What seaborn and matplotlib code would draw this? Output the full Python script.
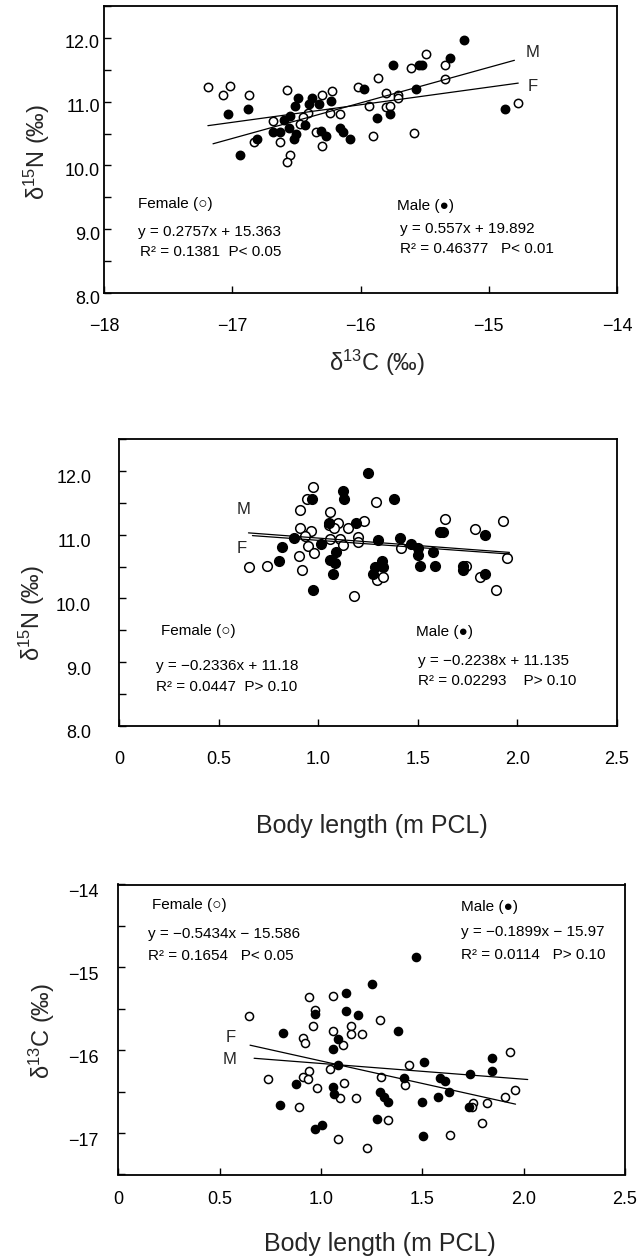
import matplotlib
matplotlib.use("Agg")
import matplotlib.pyplot as plt
import matplotlib.transforms as mtrans
from matplotlib.ticker import MultipleLocator
import numpy as np
import pandas as pd
import seaborn as sns

# ---------------- data ----------------
# Panel 1: d13C vs d15N
p1_female_x = [-17.19, -17.07, -17.02, -16.87, -16.57, -16.30, -16.22, -16.02, -15.86, -15.80,
               -15.71, -15.71, -15.61, -15.49, -15.34, -15.34, -14.77, -15.93, -15.80, -15.77,
               -16.24, -16.16, -16.41, -16.45, -16.68, -16.47, -16.35, -16.63, -16.83, -16.55,
               -16.57, -16.30, -15.90, -15.58]
p1_female_y = [11.23, 11.10, 11.25, 11.10, 11.18, 11.11, 11.16, 11.23, 11.37, 11.13,
               11.10, 11.05, 11.53, 11.75, 11.58, 11.35, 10.98, 10.93, 10.91, 10.93,
               10.83, 10.81, 10.83, 10.76, 10.69, 10.65, 10.53, 10.36, 10.36, 10.17,
               10.06, 10.31, 10.46, 10.51]
p1_male_x = [-15.19, -15.75, -15.54, -15.52, -15.30, -15.97, -15.57, -16.49, -16.51, -16.38,
             -16.40, -16.32, -16.23, -16.88, -17.03, -15.87, -15.77, -16.55, -16.60, -16.43,
             -16.56, -16.68, -16.63, -16.50, -16.52, -16.31, -16.27, -16.16, -16.14, -16.08,
             -16.81, -16.94, -14.87]
p1_male_y = [11.97, 11.58, 11.58, 11.58, 11.68, 11.20, 11.20, 11.06, 10.93, 11.05,
             10.96, 10.96, 11.01, 10.88, 10.80, 10.75, 10.80, 10.77, 10.72, 10.63,
             10.58, 10.53, 10.52, 10.50, 10.41, 10.54, 10.46, 10.58, 10.53, 10.41,
             10.41, 10.16, 10.88]

# Panel 2: body length vs d15N
p2_female_x = [0.652, 0.743, 0.910, 0.910, 0.905, 0.918, 0.943, 0.972, 0.963, 0.935,
               0.947, 0.980, 1.060, 1.053, 1.100, 1.077, 1.148, 1.107, 1.060, 1.127,
               1.198, 1.202, 1.232, 1.290, 1.418, 1.180, 1.293, 1.327, 1.635, 1.743,
               1.788, 1.810, 1.893, 1.930, 1.947]
p2_female_y = [10.49, 10.51, 11.38, 11.10, 10.67, 10.44, 11.56, 11.74, 11.05, 10.98,
               10.82, 10.71, 11.35, 11.15, 11.18, 11.10, 11.10, 10.93, 10.93, 10.84,
               10.97, 10.89, 11.22, 11.52, 10.79, 10.04, 10.29, 10.34, 11.24, 10.51,
               11.09, 10.34, 10.14, 11.22, 10.64]
p2_male_x = [1.248, 0.968, 1.123, 1.132, 1.380, 1.053, 1.190, 0.877, 0.818, 0.802,
             1.013, 1.090, 1.060, 1.082, 1.072, 0.972, 1.302, 1.410, 1.468, 1.502,
             1.502, 1.577, 1.510, 1.585, 1.318, 1.327, 1.285, 1.277, 1.610, 1.627,
             1.835, 1.727, 1.727, 1.835]
p2_male_y = [11.97, 11.56, 11.68, 11.56, 11.56, 11.19, 11.19, 10.94, 10.80, 10.59,
             10.86, 10.73, 10.60, 10.56, 10.38, 10.13, 10.92, 10.94, 10.86, 10.79,
             10.68, 10.73, 10.51, 10.51, 10.58, 10.50, 10.50, 10.39, 11.04, 11.04,
             11.00, 10.51, 10.45, 10.38]

# Panel 3: body length vs d13C
p3_female_x = [0.645, 0.943, 1.057, 0.971, 0.963, 1.057, 1.149, 1.149, 1.202, 1.289,
               0.909, 0.919, 1.108, 0.737, 0.943, 0.910, 0.935, 0.980, 1.045, 1.116,
               1.095, 1.174, 0.894, 1.296, 1.416, 1.433, 1.331, 1.082, 1.227, 1.639,
               1.792, 1.751, 1.746, 1.817, 1.906, 1.955, 1.931]
p3_female_y = [-15.59, -15.36, -15.35, -15.51, -15.71, -15.77, -15.71, -15.81, -15.80, -15.63,
               -15.85, -15.91, -15.94, -16.35, -16.25, -16.32, -16.35, -16.46, -16.23, -16.40,
               -16.58, -16.58, -16.69, -16.32, -16.42, -16.18, -16.84, -17.07, -17.18, -17.02,
               -16.88, -16.64, -16.69, -16.64, -16.57, -16.48, -16.02]
p3_male_x = [1.468, 1.253, 1.125, 0.971, 1.125, 1.182, 1.380, 0.815, 1.082, 1.057,
             1.082, 1.507, 1.733, 1.845, 1.845, 1.408, 1.586, 1.614, 1.631, 1.578,
             1.499, 1.730, 0.876, 1.057, 1.065, 1.289, 1.313, 1.329, 0.798, 0.971,
             1.004, 1.276, 1.502]
p3_male_y = [-14.87, -15.20, -15.31, -15.56, -15.53, -15.58, -15.77, -15.79, -15.87, -15.98,
             -16.18, -16.14, -16.29, -16.09, -16.25, -16.34, -16.33, -16.37, -16.51, -16.57,
             -16.62, -16.69, -16.41, -16.44, -16.53, -16.51, -16.57, -16.62, -16.66, -16.95,
             -16.90, -16.83, -17.04]

# Regression lines: (slope, intercept) and x-range of each drawn line
p1_fit_female = (0.2757, 15.363);  p1_fit_female_range = (-17.19, -14.77)
p1_fit_male = (0.557, 19.892);     p1_fit_male_range = (-17.15, -14.80)
p2_fit_female = (-0.2336, 11.18);  p2_fit_female_range = (0.65, 1.96)
p2_fit_male = (-0.2238, 11.135);   p2_fit_male_range = (0.67, 1.96)
p3_fit_female = (-0.5434, -15.586); p3_fit_female_range = (0.65, 1.96)
p3_fit_male = (-0.1899, -15.97);   p3_fit_male_range = (0.67, 2.02)

# Texts
p1_female_text = ["Female (○)", "y = 0.2757x + 15.363", "R² = 0.1381  P< 0.05"]
p1_male_text = ["Male (●)", "y = 0.557x + 19.892", "R² = 0.46377   P< 0.01"]
p2_female_text = ["Female (○)", "y = −0.2336x + 11.18", "R² = 0.0447  P> 0.10"]
p2_male_text = ["Male (●)", "y = −0.2238x + 11.135", "R² = 0.02293    P> 0.10"]
p3_female_text = ["Female (○)", "y = −0.5434x − 15.586", "R² = 0.1654   P< 0.05"]
p3_male_text = ["Male (●)", "y = −0.1899x − 15.97", "R² = 0.0114   P> 0.10"]

p1_xticks = [-18, -17, -16, -15, -14]
p1_xticklabels = ["−18", "−17", "−16", "−15", "−14"]
n15_yticks = [8, 9, 10, 11, 12]
n15_yticklabels = ["8.0", "9.0", "10.0", "11.0", "12.0"]
bl_xticks = [0, 0.5, 1.0, 1.5, 2.0, 2.5]
bl_xticklabels = ["0", "0.5", "1.0", "1.5", "2.0", "2.5"]
p3_yticks = [-17, -16, -15, -14]
p3_yticklabels = ["−17", "−16", "−15", "−14"]

# ---------------- style ----------------
sns.set_theme(style="ticks")
plt.rcParams["font.family"] = ["Liberation Sans", "DejaVu Sans"]
plt.rcParams["mathtext.fontset"] = "custom"
plt.rcParams["mathtext.rm"] = "Liberation Sans"
plt.rcParams["mathtext.it"] = "Liberation Sans:italic"
plt.rcParams["mathtext.bf"] = "Liberation Sans:bold"

W, H = 639, 1258
fig = plt.figure(figsize=(W / 100, H / 100), dpi=100)
fig.patch.set_facecolor("white")


def make_axes(L, R, T, B):
    return fig.add_axes([L / W, 1 - B / H, (R - L) / W, (B - T) / H])


def style_axes(ax, xpad, ypad):
    for sp in ax.spines.values():
        sp.set_visible(True)
        sp.set_linewidth(1.3)
        sp.set_color("black")
    ax.tick_params(which="both", direction="in", length=5, width=1.0,
                   colors="black", top=False, right=False, labelsize=13)
    ax.tick_params(axis="x", pad=xpad)
    ax.tick_params(axis="y", pad=ypad)
    ax.set_facecolor("white")
    ax.grid(False)


def scatter_pair(ax, fx, fy, mx, my, s):
    sns.scatterplot(x=fx, y=fy, ax=ax, marker="o", s=s, color="white",
                    edgecolor="black", linewidth=1.1, legend=False, zorder=2)
    sns.scatterplot(x=mx, y=my, ax=ax, marker="o", s=s, color="black",
                    edgecolor="black", linewidth=1.1, legend=False, zorder=2)


def fit_line(ax, fit, xr):
    xs = np.array(xr)
    ys = fit[0] * xs + fit[1]
    sns.lineplot(x=xs, y=ys, ax=ax, color="black", linewidth=0.9, zorder=3,
                 legend=False)


def texts(ax, items, fs=11):
    for s, x, y in items:
        ax.text(x, y, s, transform=ax.transAxes, fontsize=fs, ha="left",
                va="center", color="black", clip_on=False, zorder=5)


def shift_ylabels(ax, dy_px):
    off = mtrans.ScaledTranslation(0, -dy_px / 100, fig.dpi_scale_trans)
    for lab in ax.get_yticklabels():
        lab.set_transform(lab.get_transform() + off)


# ---------------- Panel 1 ----------------
ax1 = make_axes(104, 617, 6, 293)
scatter_pair(ax1, p1_female_x, p1_female_y, p1_male_x, p1_male_y, 36)
fit_line(ax1, p1_fit_female, p1_fit_female_range)
fit_line(ax1, p1_fit_male, p1_fit_male_range)
ax1.set_xlim(-18, -14)
ax1.set_ylim(8, 12.5)
ax1.set_xticks(p1_xticks)
ax1.set_xticklabels(p1_xticklabels)
ax1.set_yticks(n15_yticks)
ax1.set_yticklabels(n15_yticklabels)
ax1.yaxis.set_minor_locator(MultipleLocator(0.5))
style_axes(ax1, xpad=18, ypad=3)
shift_ylabels(ax1, 4)
ax1.set_xlabel("δ$^{13}$C (‰)", fontsize=17, va="center")
ax1.xaxis.set_label_coords(0.532, -0.244)
ax1.set_ylabel("δ$^{15}$N (‰)", fontsize=17, va="center")
ax1.yaxis.set_label_coords(-0.131, 0.491)
texts(ax1, [(p1_female_text[0], 0.066, 0.310), (p1_female_text[1], 0.066, 0.2125),
            (p1_female_text[2], 0.070, 0.143)])
texts(ax1, [(p1_male_text[0], 0.571, 0.304), (p1_male_text[1], 0.577, 0.223),
            (p1_male_text[2], 0.577, 0.153)])
ax1.text(0.836, 0.837, "M", transform=ax1.transAxes, fontsize=12, ha="center", va="center")
ax1.text(0.836, 0.721, "F", transform=ax1.transAxes, fontsize=12, ha="center", va="center")

# ---------------- Panel 2 ----------------
ax2 = make_axes(119, 617, 439, 726)
scatter_pair(ax2, p2_female_x, p2_female_y, p2_male_x, p2_male_y, 48)
fit_line(ax2, p2_fit_female, p2_fit_female_range)
fit_line(ax2, p2_fit_male, p2_fit_male_range)
ax2.set_xlim(0, 2.5)
ax2.set_ylim(8, 12.5)
ax2.set_xticks(bl_xticks)
ax2.set_xticklabels(bl_xticklabels)
ax2.set_yticks(n15_yticks)
ax2.set_yticklabels(n15_yticklabels)
ax2.yaxis.set_minor_locator(MultipleLocator(0.5))
style_axes(ax2, xpad=18, ypad=20)
shift_ylabels(ax2, 6)
ax2.set_xlabel("Body length (m PCL)", fontsize=18, va="center")
ax2.xaxis.set_label_coords(0.507, -0.348)
ax2.set_ylabel("δ$^{15}$N (‰)", fontsize=17, va="center")
ax2.yaxis.set_label_coords(-0.175, 0.394)
texts(ax2, [(p2_female_text[0], 0.084, 0.332), (p2_female_text[1], 0.074, 0.209),
            (p2_female_text[2], 0.074, 0.137)])
texts(ax2, [(p2_male_text[0], 0.596, 0.3275), (p2_male_text[1], 0.600, 0.2275),
            (p2_male_text[2], 0.600, 0.158)])
ax2.text(0.251, 0.756, "M", transform=ax2.transAxes, fontsize=12, ha="center", va="center")
ax2.text(0.2465, 0.617, "F", transform=ax2.transAxes, fontsize=12, ha="center", va="center")

# ---------------- Panel 3 ----------------
ax3 = make_axes(118.3, 625, 884.5, 1174.5)
scatter_pair(ax3, p3_female_x, p3_female_y, p3_male_x, p3_male_y, 34)
fit_line(ax3, p3_fit_female, p3_fit_female_range)
fit_line(ax3, p3_fit_male, p3_fit_male_range)
ax3.set_xlim(0, 2.5)
ax3.set_ylim(-17.5, -14)
ax3.set_xticks(bl_xticks)
ax3.set_xticklabels(bl_xticklabels)
ax3.set_yticks(p3_yticks)
ax3.set_yticklabels(p3_yticklabels)
ax3.yaxis.set_minor_locator(MultipleLocator(0.5))
style_axes(ax3, xpad=12, ypad=14)
shift_ylabels(ax3, 6)
ax3.set_xlabel("Body length (m PCL)", fontsize=18, va="center")
ax3.xaxis.set_label_coords(0.516, -0.238)
ax3.set_ylabel("δ$^{13}$C (‰)", fontsize=17, va="center")
ax3.yaxis.set_label_coords(-0.151, 0.495)
texts(ax3, [(p3_female_text[0], 0.066, 0.929), (p3_female_text[1], 0.059, 0.829),
            (p3_female_text[2], 0.059, 0.753)])
texts(ax3, [(p3_male_text[0], 0.676, 0.922), (p3_male_text[1], 0.676, 0.836),
            (p3_male_text[2], 0.676, 0.757)])
ax3.text(0.222, 0.474, "F", transform=ax3.transAxes, fontsize=12, ha="center", va="center")
ax3.text(0.220, 0.398, "M", transform=ax3.transAxes, fontsize=12, ha="center", va="center")

fig.savefig("out.png", dpi=100, facecolor="white")
